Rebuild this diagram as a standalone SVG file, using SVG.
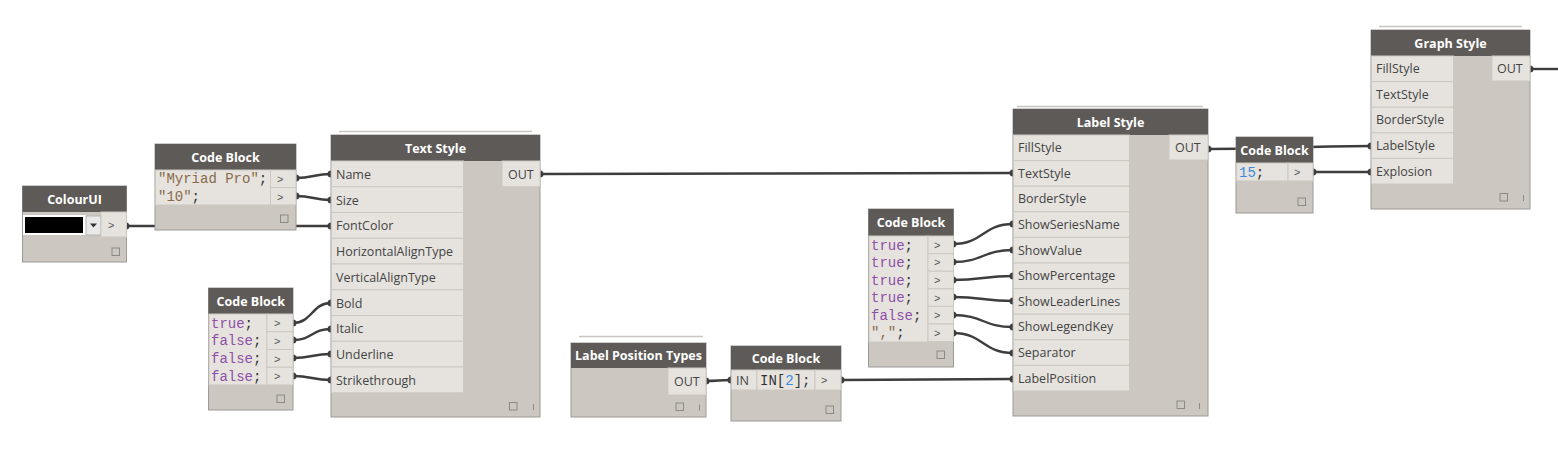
<svg xmlns="http://www.w3.org/2000/svg" width="1558" height="451" viewBox="0 0 1558 451">
<style>
.bg{fill:#ffffff}
.body{fill:#ccc8c1;stroke:#9c9a97;stroke-width:1}
.hdr{fill:#5e5a57}
.row{fill:#e6e3df;stroke:#ccc8c1;stroke-width:1}
.title{font-family:"Open Sans","Liberation Sans",sans-serif;font-size:12.5px;font-weight:bold;fill:#ffffff;text-anchor:middle}
.lbl{font-family:"Open Sans","Liberation Sans",sans-serif;font-size:12.5px;fill:#444444}
.port{font-family:"Liberation Sans",sans-serif;font-size:11px;fill:#555555}
.code{font-family:"Liberation Mono","DejaVu Sans Mono",monospace;font-size:14px;fill:#333333}
.str{fill:#8a6a4a}
.bool{fill:#8d4fa8}
.num{fill:#3a8ae0}
.sq{fill:none;stroke:#8a8a8a;stroke-width:1}
.bar{stroke:#8a8a8a;stroke-width:1}
.stack{stroke:#c8c5c0;stroke-width:1.5}
.wire{fill:none;stroke:#3d3d3d;stroke-width:2.4}
.dot{fill:#3d3d3d}
</style>
<rect class="bg" x="0" y="0" width="1558" height="451"/>

<g id="connectors">
<path class="wire" d="M296,178 C313,178 314,174 331,174"/>
<path class="wire" d="M296,196 C313,196 314,200 331,200"/>
<path class="wire" d="M126,226 L331,226"/>
<path class="wire" d="M293,323 C312,323 312,303 331,303"/>
<path class="wire" d="M293,340 C312,340 312,329 331,329"/>
<path class="wire" d="M293,358 C312,358 312,354 331,354"/>
<path class="wire" d="M293,376 C312,376 312,380 331,380"/>
<path class="wire" d="M540,174 C776,174 777,173 1013,173"/>
<path class="wire" d="M953,244 C983,244 983,224 1013,224"/>
<path class="wire" d="M953,262 C983,262 983,250 1013,250"/>
<path class="wire" d="M953,280 C983,280 983,276 1013,276"/>
<path class="wire" d="M953,297 C983,297 983,301 1013,301"/>
<path class="wire" d="M953,315 C983,315 983,327 1013,327"/>
<path class="wire" d="M953,333 C983,333 983,353 1013,353"/>
<path class="wire" d="M706,381 C718,381 719,380 731,380"/>
<path class="wire" d="M841,380 C927,380 927,379 1013,379"/>
<path class="wire" d="M1208,149 C1289,149 1289,146 1371,146"/>
<path class="wire" d="M1313,172 L1371,172"/>
<path class="wire" d="M1530,69 L1558,69"/>
<circle class="dot" cx="296" cy="178" r="3.5"/><circle class="dot" cx="331" cy="174" r="3.5"/>
<circle class="dot" cx="296" cy="196" r="3.5"/><circle class="dot" cx="331" cy="200" r="3.5"/>
<circle class="dot" cx="126" cy="226" r="3.5"/><circle class="dot" cx="331" cy="226" r="3.5"/>
<circle class="dot" cx="293" cy="323" r="3.5"/><circle class="dot" cx="331" cy="303" r="3.5"/>
<circle class="dot" cx="293" cy="340" r="3.5"/><circle class="dot" cx="331" cy="329" r="3.5"/>
<circle class="dot" cx="293" cy="358" r="3.5"/><circle class="dot" cx="331" cy="354" r="3.5"/>
<circle class="dot" cx="293" cy="376" r="3.5"/><circle class="dot" cx="331" cy="380" r="3.5"/>
<circle class="dot" cx="540" cy="174" r="3.5"/><circle class="dot" cx="1013" cy="173" r="3.5"/>
<circle class="dot" cx="953" cy="244" r="3.5"/><circle class="dot" cx="1013" cy="224" r="3.5"/>
<circle class="dot" cx="953" cy="262" r="3.5"/><circle class="dot" cx="1013" cy="250" r="3.5"/>
<circle class="dot" cx="953" cy="280" r="3.5"/><circle class="dot" cx="1013" cy="276" r="3.5"/>
<circle class="dot" cx="953" cy="297" r="3.5"/><circle class="dot" cx="1013" cy="301" r="3.5"/>
<circle class="dot" cx="953" cy="315" r="3.5"/><circle class="dot" cx="1013" cy="327" r="3.5"/>
<circle class="dot" cx="953" cy="333" r="3.5"/><circle class="dot" cx="1013" cy="353" r="3.5"/>
<circle class="dot" cx="706" cy="381" r="3.5"/><circle class="dot" cx="731" cy="380" r="3.5"/>
<circle class="dot" cx="841" cy="380" r="3.5"/><circle class="dot" cx="1013" cy="379" r="3.5"/>
<circle class="dot" cx="1208" cy="149" r="3.5"/><circle class="dot" cx="1371" cy="146" r="3.5"/>
<circle class="dot" cx="1313" cy="172" r="3.5"/><circle class="dot" cx="1371" cy="172" r="3.5"/>
<circle class="dot" cx="1530" cy="69" r="3.5"/>
</g>

<g id="colourui">
<rect class="body" x="22.5" y="186" width="104" height="76"/>
<rect class="hdr" x="22.5" y="186" width="104" height="26"/>
<text class="title" x="74.5" y="203.5">ColourUI</text>
<rect x="23" y="215" width="63" height="20" fill="#ffffff"/>
<rect x="25" y="217" width="58" height="16" fill="#000000"/>
<rect x="86" y="216" width="15" height="19" fill="#e9e9e9" stroke="#b5b5b5"/>
<path d="M90,223.5 L97,223.5 L93.5,227.5 Z" fill="#333333"/>
<rect class="row" x="101" y="212" width="25.5" height="25"/>
<text class="port" x="108" y="229">&gt;</text>
<rect class="sq" x="112" y="248" width="7.5" height="7.5"/>
</g>

<g id="codeblock1">
<rect class="body" x="155" y="144" width="141" height="86"/>
<rect class="hdr" x="155" y="144" width="141" height="26"/>
<text class="title" x="225.5" y="161.5">Code Block</text>
<rect class="row" x="155.5" y="170" width="115" height="35"/>
<rect class="row" x="270.5" y="170" width="25.5" height="17.5"/>
<rect class="row" x="270.5" y="187.5" width="25.5" height="17.5"/>
<text class="code" x="158" y="183"><tspan class="str">"Myriad Pro"</tspan>;</text>
<text class="code" x="158" y="201"><tspan class="str">"10"</tspan>;</text>
<text class="port" x="277" y="183">&gt;</text>
<text class="port" x="277" y="200.5">&gt;</text>
<rect class="sq" x="280.5" y="215" width="7.5" height="7.5"/>
</g>

<g id="textstyle">
<line class="stack" x1="339" y1="131.5" x2="532" y2="131.5"/>
<rect class="body" x="331" y="135" width="209" height="282"/>
<rect class="hdr" x="331" y="135" width="209" height="26"/>
<text class="title" x="435.5" y="152.5">Text Style</text>
<rect class="row" x="331.5" y="161" width="132" height="25.75"/>
<rect class="row" x="331.5" y="186.75" width="132" height="25.75"/>
<rect class="row" x="331.5" y="212.5" width="132" height="25.75"/>
<rect class="row" x="331.5" y="238.25" width="132" height="25.75"/>
<rect class="row" x="331.5" y="264" width="132" height="25.75"/>
<rect class="row" x="331.5" y="289.75" width="132" height="25.75"/>
<rect class="row" x="331.5" y="315.5" width="132" height="25.75"/>
<rect class="row" x="331.5" y="341.25" width="132" height="25.75"/>
<rect class="row" x="331.5" y="367" width="132" height="25.75"/>
<text class="lbl" x="336" y="178.5">Name</text>
<text class="lbl" x="336" y="204.5">Size</text>
<text class="lbl" x="336" y="230">FontColor</text>
<text class="lbl" x="336" y="256">HorizontalAlignType</text>
<text class="lbl" x="336" y="281.5">VerticalAlignType</text>
<text class="lbl" x="336" y="307.5">Bold</text>
<text class="lbl" x="336" y="333">Italic</text>
<text class="lbl" x="336" y="359">Underline</text>
<text class="lbl" x="336" y="384.5">Strikethrough</text>
<rect class="row" x="502" y="161" width="38" height="25.75"/>
<text class="lbl" x="508" y="178.5">OUT</text>
<rect class="sq" x="509.5" y="402.5" width="7.5" height="7.5"/>
<line class="bar" x1="533.5" y1="404" x2="533.5" y2="410"/>
</g>

<g id="codeblock2">
<rect class="body" x="208.5" y="288" width="84.5" height="122"/>
<rect class="hdr" x="208.5" y="288" width="84.5" height="26"/>
<text class="title" x="250.75" y="305.5">Code Block</text>
<rect class="row" x="209" y="314" width="58" height="71"/>
<rect class="row" x="267" y="314" width="26" height="17.75"/>
<rect class="row" x="267" y="331.75" width="26" height="17.75"/>
<rect class="row" x="267" y="349.5" width="26" height="17.75"/>
<rect class="row" x="267" y="367.25" width="26" height="17.75"/>
<text class="code" x="211" y="327.5"><tspan class="bool">true</tspan>;</text>
<text class="code" x="211" y="345"><tspan class="bool">false</tspan>;</text>
<text class="code" x="211" y="363"><tspan class="bool">false</tspan>;</text>
<text class="code" x="211" y="380.5"><tspan class="bool">false</tspan>;</text>
<text class="port" x="274" y="327">&gt;</text>
<text class="port" x="274" y="344.5">&gt;</text>
<text class="port" x="274" y="362.5">&gt;</text>
<text class="port" x="274" y="380">&gt;</text>
<rect class="sq" x="277" y="395" width="7.5" height="7.5"/>
</g>

<g id="labelpositiontypes">
<line class="stack" x1="579" y1="336.5" x2="703" y2="336.5"/>
<rect class="body" x="571" y="343" width="135" height="74"/>
<rect class="hdr" x="571" y="343" width="135" height="25"/>
<text class="title" x="638.5" y="360">Label Position Types</text>
<rect class="row" x="668" y="368" width="38" height="27"/>
<text class="lbl" x="674" y="385.5">OUT</text>
<rect class="sq" x="676" y="403" width="7.5" height="7.5"/>
<line class="bar" x1="699.5" y1="404.5" x2="699.5" y2="410.5"/>
</g>

<g id="codeblock3">
<rect class="body" x="731" y="346" width="110" height="75"/>
<rect class="hdr" x="731" y="346" width="110" height="24"/>
<text class="title" x="786" y="362.5">Code Block</text>
<rect class="row" x="731.5" y="370" width="25.5" height="20"/>
<rect class="row" x="757" y="370" width="58" height="20"/>
<rect class="row" x="815" y="370" width="26" height="20"/>
<text class="lbl" x="736" y="385">IN</text>
<text class="code" x="760" y="385">IN[<tspan class="num">2</tspan>];</text>
<text class="port" x="821" y="384">&gt;</text>
<rect class="sq" x="826" y="406" width="7.5" height="7.5"/>
</g>

<g id="codeblock4">
<rect class="body" x="868.5" y="209" width="85" height="158"/>
<rect class="hdr" x="868.5" y="209" width="85" height="27"/>
<text class="title" x="911" y="227">Code Block</text>
<rect class="row" x="869" y="236" width="59" height="106"/>
<rect class="row" x="928" y="236" width="25.5" height="17.6"/>
<rect class="row" x="928" y="253.6" width="25.5" height="17.6"/>
<rect class="row" x="928" y="271.2" width="25.5" height="17.6"/>
<rect class="row" x="928" y="288.8" width="25.5" height="17.6"/>
<rect class="row" x="928" y="306.4" width="25.5" height="17.6"/>
<rect class="row" x="928" y="324" width="25.5" height="17.6"/>
<text class="code" x="871" y="249.5"><tspan class="bool">true</tspan>;</text>
<text class="code" x="871" y="267"><tspan class="bool">true</tspan>;</text>
<text class="code" x="871" y="284.5"><tspan class="bool">true</tspan>;</text>
<text class="code" x="871" y="302"><tspan class="bool">true</tspan>;</text>
<text class="code" x="871" y="319.5"><tspan class="bool">false</tspan>;</text>
<text class="code" x="871" y="337"><tspan class="str">","</tspan>;</text>
<text class="port" x="934" y="248.5">&gt;</text>
<text class="port" x="934" y="266">&gt;</text>
<text class="port" x="934" y="284">&gt;</text>
<text class="port" x="934" y="301.5">&gt;</text>
<text class="port" x="934" y="319">&gt;</text>
<text class="port" x="934" y="336.5">&gt;</text>
<rect class="sq" x="937" y="351" width="7.5" height="7.5"/>
</g>

<g id="labelstyle">
<line class="stack" x1="1017" y1="106.5" x2="1203" y2="106.5"/>
<rect class="body" x="1013" y="109" width="195" height="307"/>
<rect class="hdr" x="1013" y="109" width="195" height="26"/>
<text class="title" x="1110.5" y="126.5">Label Style</text>
<rect class="row" x="1013.5" y="135" width="116" height="25.6"/>
<rect class="row" x="1013.5" y="160.6" width="116" height="25.6"/>
<rect class="row" x="1013.5" y="186.2" width="116" height="25.6"/>
<rect class="row" x="1013.5" y="211.8" width="116" height="25.6"/>
<rect class="row" x="1013.5" y="237.4" width="116" height="25.6"/>
<rect class="row" x="1013.5" y="263" width="116" height="25.6"/>
<rect class="row" x="1013.5" y="288.6" width="116" height="25.6"/>
<rect class="row" x="1013.5" y="314.2" width="116" height="25.6"/>
<rect class="row" x="1013.5" y="339.8" width="116" height="25.6"/>
<rect class="row" x="1013.5" y="365.4" width="116" height="25.6"/>
<text class="lbl" x="1018" y="152">FillStyle</text>
<text class="lbl" x="1018" y="177.5">TextStyle</text>
<text class="lbl" x="1018" y="203">BorderStyle</text>
<text class="lbl" x="1018" y="228.5">ShowSeriesName</text>
<text class="lbl" x="1018" y="254.5">ShowValue</text>
<text class="lbl" x="1018" y="280">ShowPercentage</text>
<text class="lbl" x="1018" y="305.5">ShowLeaderLines</text>
<text class="lbl" x="1018" y="331">ShowLegendKey</text>
<text class="lbl" x="1018" y="357">Separator</text>
<text class="lbl" x="1018" y="382.5">LabelPosition</text>
<rect class="row" x="1169" y="135" width="39" height="25"/>
<text class="lbl" x="1175" y="152">OUT</text>
<rect class="sq" x="1177" y="401" width="7.5" height="7.5"/>
<line class="bar" x1="1199.5" y1="403" x2="1199.5" y2="409"/>
</g>

<g id="codeblock5">
<rect class="body" x="1236" y="137" width="77" height="76"/>
<rect class="hdr" x="1236" y="137" width="77" height="26"/>
<text class="title" x="1274.5" y="154.5">Code Block</text>
<rect class="row" x="1236.5" y="163" width="51.5" height="18"/>
<rect class="row" x="1288" y="163" width="25" height="18"/>
<text class="code" x="1239" y="177"><tspan class="num">15</tspan>;</text>
<text class="port" x="1294" y="176">&gt;</text>
<rect class="sq" x="1298" y="198" width="7.5" height="7.5"/>
</g>

<g id="graphstyle">
<line class="stack" x1="1379" y1="26.5" x2="1522" y2="26.5"/>
<rect class="body" x="1371" y="30" width="159" height="179"/>
<rect class="hdr" x="1371" y="30" width="159" height="26"/>
<text class="title" x="1450.5" y="47.5">Graph Style</text>
<rect class="row" x="1371.5" y="56" width="82" height="25.6"/>
<rect class="row" x="1371.5" y="81.6" width="82" height="25.6"/>
<rect class="row" x="1371.5" y="107.2" width="82" height="25.6"/>
<rect class="row" x="1371.5" y="132.8" width="82" height="25.6"/>
<rect class="row" x="1371.5" y="158.4" width="82" height="25.6"/>
<text class="lbl" x="1376" y="73">FillStyle</text>
<text class="lbl" x="1376" y="98.5">TextStyle</text>
<text class="lbl" x="1376" y="124">BorderStyle</text>
<text class="lbl" x="1376" y="150">LabelStyle</text>
<text class="lbl" x="1376" y="175.5">Explosion</text>
<rect class="row" x="1492" y="56" width="38" height="25"/>
<text class="lbl" x="1497" y="73">OUT</text>
<rect class="sq" x="1500" y="193.5" width="7.5" height="7.5"/>
<line class="bar" x1="1523.5" y1="195" x2="1523.5" y2="201"/>
</g>
</svg>
